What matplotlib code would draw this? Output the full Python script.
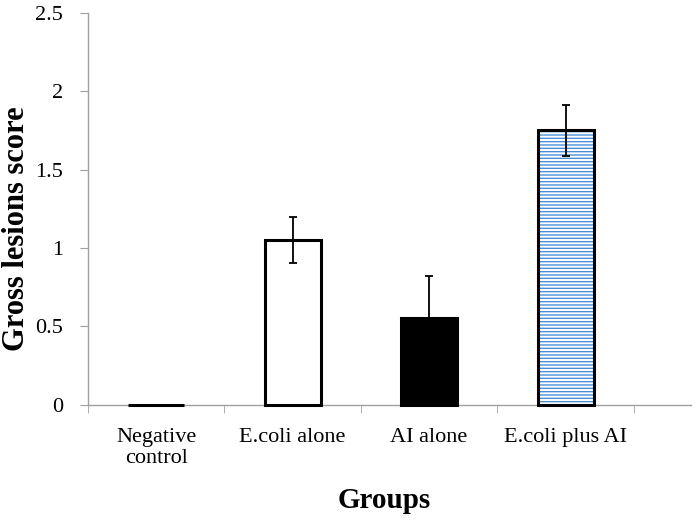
"""Gross lesions score by group, bar chart with SE error bars."""

import matplotlib

matplotlib.use("Agg")
import matplotlib.pyplot as plt
from matplotlib.ticker import FixedLocator

groups = ["Negative\ncontrol", "E.coli alone", "AI alone", "E.coli plus AI"]
scores = [0.0, 1.05, 0.55, 1.75]
errors = [0.0, 0.145, 0.27, 0.165]
y_ticks = [0, 0.5, 1, 1.5, 2, 2.5]
y_tick_labels = ["0", "0.5", "1", "1.5", "2", "2.5"]

plt.rcParams["font.family"] = ["Liberation Serif", "DejaVu Serif"]
plt.rcParams["hatch.linewidth"] = 1.0

fig = plt.figure(figsize=(6.96, 5.22), dpi=100)
ax = fig.add_axes([0.1264, 0.225, 0.8666, 0.75])

x = list(range(len(groups)))
width = 0.41
faces = ["white", "white", "black", "white"]

for i in x:
    if i == 3:
        # blue horizontal hatching, then a black outline over it
        ax.bar(i, scores[i], width, color="white", edgecolor="#4a90d6",
               hatch="-----", linewidth=0, zorder=2)
        ax.bar(i, scores[i], width, color="none", edgecolor="black",
               linewidth=2.2, zorder=3, clip_on=False)
    else:
        ax.bar(i, scores[i], width, color=faces[i], edgecolor="black",
               linewidth=2.2, zorder=3, clip_on=False)
    if errors[i] > 0:
        ax.errorbar(i, scores[i], yerr=errors[i], fmt="none", ecolor="black",
                    elinewidth=1.3, capsize=3, capthick=1.3, zorder=4)

ax.set_xlim(-0.5, 3.92)
ax.set_ylim(0, 2.5)

ax.set_yticks(y_ticks)
ax.set_yticklabels(y_tick_labels)
ax.set_xticks(x)
ax.set_xticklabels(groups, linespacing=1.15)
ax.xaxis.set_minor_locator(FixedLocator([-0.5, 0.5, 1.5, 2.5, 3.5]))

ax.tick_params(axis="x", which="major", length=0, pad=17, labelsize=16)
ax.tick_params(axis="x", which="minor", length=6, color="#a0a0a0", direction="out")
ax.tick_params(axis="y", length=6, color="#a0a0a0", pad=12, labelsize=16)

for side in ("top", "right"):
    ax.spines[side].set_visible(False)
for side in ("left", "bottom"):
    ax.spines[side].set_color("#a0a0a0")
    ax.spines[side].set_linewidth(1.0)

ax.set_ylabel("Gross lesions score", fontsize=22, fontweight="bold", va="center")
ax.yaxis.set_label_coords(-0.119, 0.45)
ax.set_xlabel("Groups", fontsize=21, fontweight="bold", va="center")
ax.xaxis.set_label_coords(0.491, -0.244)

fig.savefig("out.png", dpi=100)
plt.close(fig)
